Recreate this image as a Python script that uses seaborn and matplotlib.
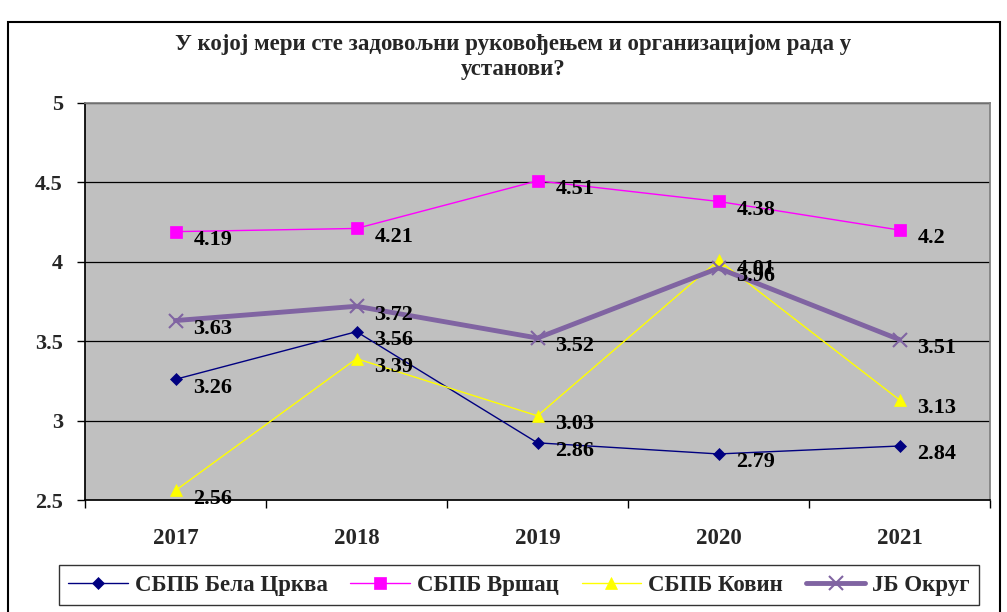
import numpy as np
import pandas as pd
import matplotlib
matplotlib.use("Agg")
import matplotlib.pyplot as plt
import seaborn as sns
from matplotlib.patches import Rectangle

# --- podaci ---
years = ["2017", "2018", "2019", "2020", "2021"]
bela_crkva = [3.26, 3.56, 2.86, 2.79, 2.84]
vrsac = [4.19, 4.21, 4.51, 4.38, 4.2]
kovin = [2.56, 3.39, 3.03, 4.01, 3.13]
okrug = [3.63, 3.72, 3.52, 3.96, 3.51]

series_names = ["СБПБ Бела Црква", "СБПБ Вршац", "СБПБ Ковин", "ЈБ Округ"]
series_values = [bela_crkva, vrsac, kovin, okrug]

title = "У којој мери сте задовољни руковођењем и организацијом рада у\nустанови?"

rows = []
for name, vals in zip(series_names, series_values):
    for i, v in enumerate(vals):
        rows.append({"serija": name, "x": i, "vrednost": v})
df = pd.DataFrame(rows)

sns.set_theme(style="white")
plt.rcParams["font.family"] = ["Liberation Serif", "DejaVu Serif"]
plt.rcParams["font.weight"] = "bold"

styles = {
    "СБПБ Бела Црква": dict(color="#000080", marker="D", lw=1.0, ms=6),
    "СБПБ Вршац": dict(color="#FF00FF", marker="s", lw=1.0, ms=8),
    "СБПБ Ковин": dict(color="#FFFF00", marker="^", lw=1.0, ms=8),
    "ЈБ Округ": dict(color="#8064A2", marker="x", lw=3.5, ms=10),
}

fig = plt.figure(figsize=(10.07, 6.12), dpi=100)
ax = fig.add_axes([85 / 1007, 1 - 500 / 612, 905 / 1007, 397 / 612])
ax.set_facecolor("#C0C0C0")

for name in series_names:
    st = styles[name]
    sub = df[df["serija"] == name]
    sns.lineplot(data=sub, x="x", y="vrednost", ax=ax, color=st["color"],
                 linewidth=st["lw"], marker=st["marker"], markersize=st["ms"],
                 markeredgecolor=st["color"], markeredgewidth=1.5 if st["marker"] == "x" else 0.5,
                 label=name, zorder=3)
    for xi, v in zip(sub["x"], sub["vrednost"]):
        ax.annotate(f"{v:g}", (xi, v), xytext=(13, -6), textcoords="offset points",
                    fontsize=16, fontweight="bold", color="black", va="center", ha="left",
                    zorder=4)

ax.set_xlim(-0.5, 4.5)
ax.set_ylim(2.5, 5)
ax.set_yticks(np.arange(2.5, 5.01, 0.5))
ax.set_yticklabels([f"{t:g}" for t in np.arange(2.5, 5.01, 0.5)], fontsize=16, fontweight="bold")
for t in np.arange(3.0, 5.01, 0.5):
    ax.axhline(t, color="black", lw=0.9, zorder=1)

# kategorije: oznake u sredini, crtice na granicama
ax.set_xticks(np.arange(-0.5, 4.6, 1.0))
ax.set_xticklabels([])
ax.set_xticks(range(len(years)), minor=True)
ax.set_xticklabels(years, minor=True, fontsize=16.5, fontweight="bold")
ax.tick_params(axis="x", which="major", length=6, width=1, color="black", direction="out", bottom=True)
ax.tick_params(axis="x", which="minor", length=0, pad=20)
ax.tick_params(axis="y", length=6, width=1, color="black", direction="out", left=True, pad=10)
ax.set_xlabel("")
ax.set_ylabel("")

ax.spines["left"].set_color("black")
ax.spines["bottom"].set_color("black")
ax.spines["top"].set_color("#808080")
ax.spines["right"].set_color("#808080")

fig.text(0.51, 1 - 57 / 612, title, ha="center", va="center", fontsize=16.5,
         fontweight="bold", linespacing=1.3)

if ax.legend_:
    ax.legend_.remove()
handles, labels = ax.get_legend_handles_labels()
leg = fig.legend(handles, labels, loc="center", bbox_to_anchor=(519 / 1007, 1 - 585 / 612),
                 ncol=4, frameon=True, fancybox=False, handlelength=2.6,
                 columnspacing=1.0, handletextpad=0.3, borderpad=0.4,
                 prop={"weight": "bold", "size": 16.5})
leg.get_frame().set_edgecolor("black")
leg.get_frame().set_linewidth(1.0)

fig.patches.append(Rectangle((8 / 1007, -0.01), 992 / 1007, 1 - 22 / 612 + 0.01,
                             transform=fig.transFigure, fill=False, edgecolor="black",
                             linewidth=1.5))

fig.savefig("out.png", dpi=100)
